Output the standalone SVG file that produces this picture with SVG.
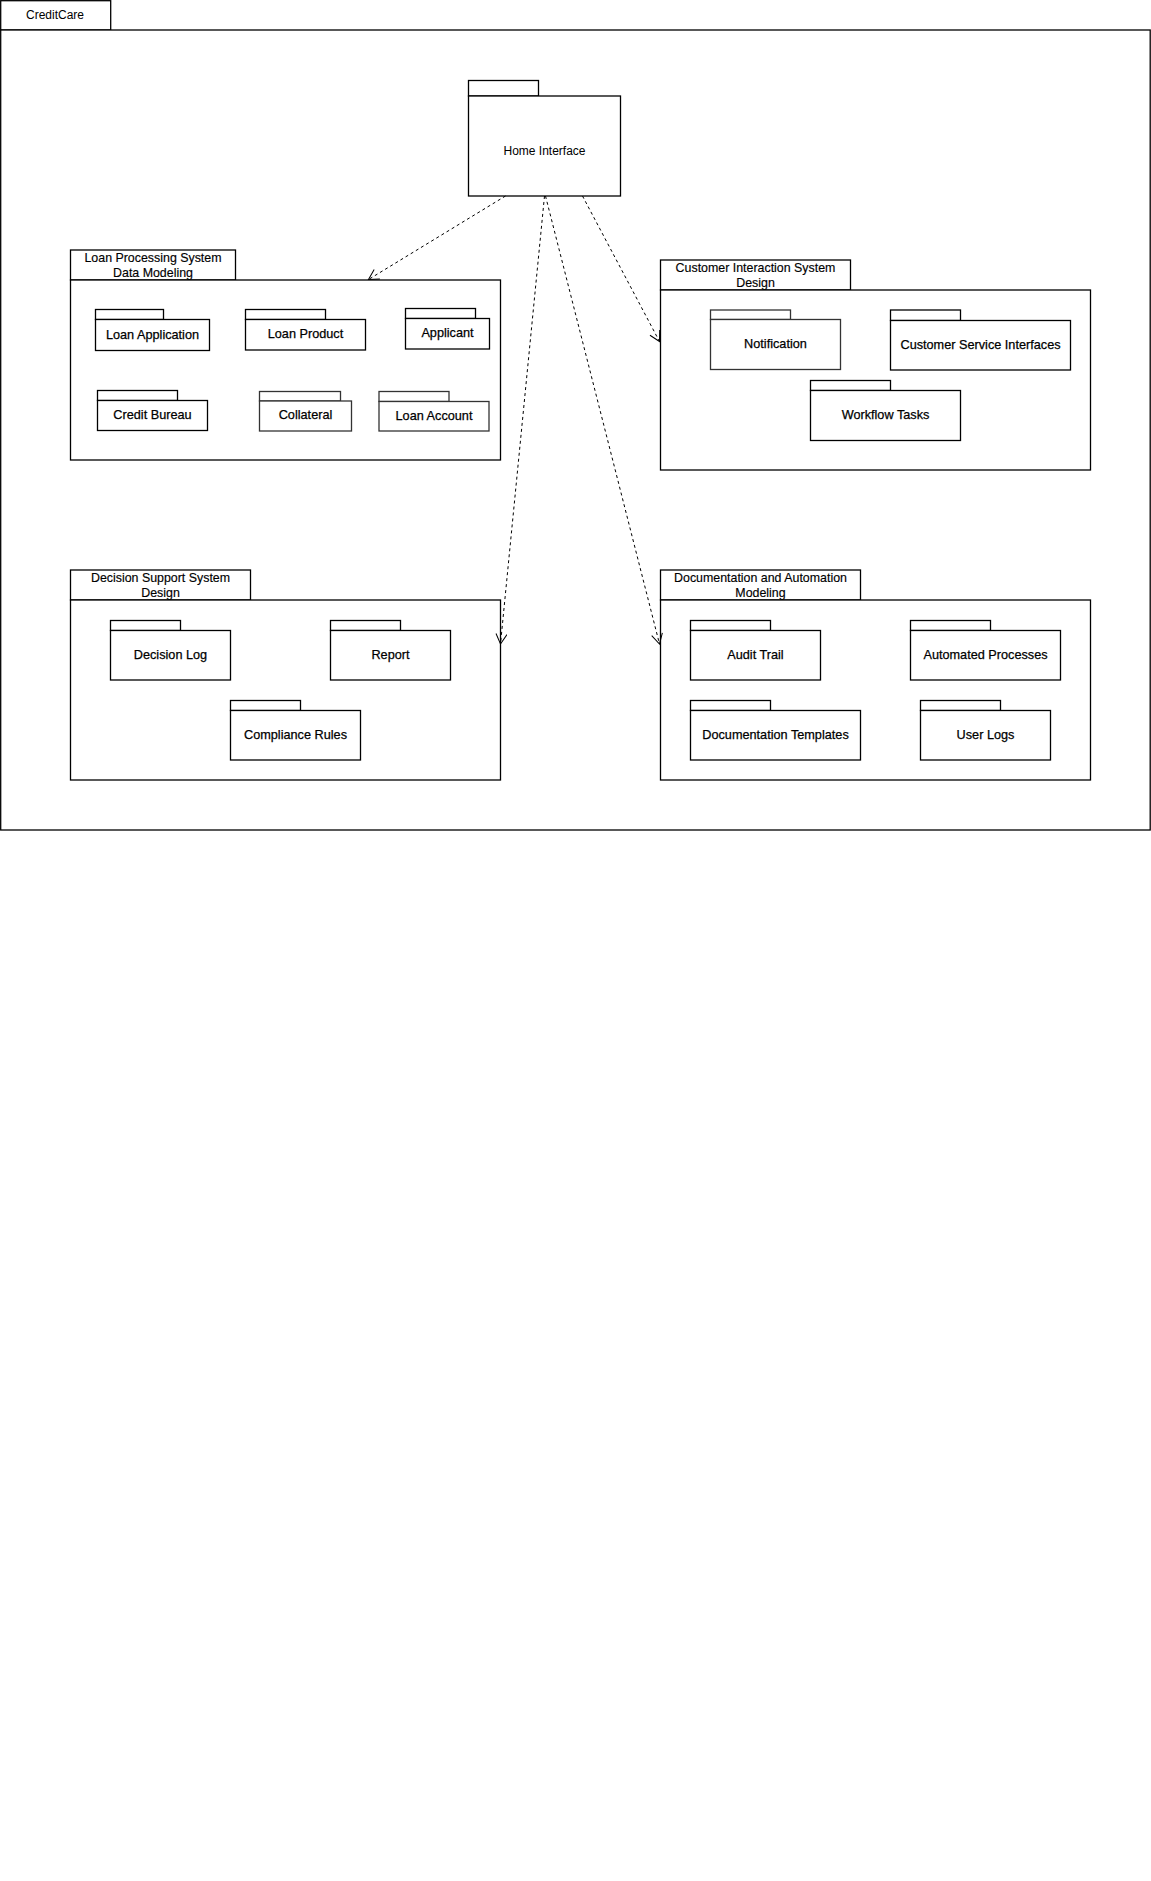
<svg xmlns="http://www.w3.org/2000/svg" width="1151" height="1881" viewBox="0 0 1151 1881">
<style>
  .box { fill: #ffffff; stroke: #000000; stroke-width: 1.3; }
  .gbox { fill: #ffffff; stroke: #333333; stroke-width: 1.3; }
  .t { font-family: "Liberation Sans", Arial, sans-serif; font-size: 12px; fill: #000000; text-anchor: middle; }
  .lbl { font-family: "Liberation Sans", Arial, sans-serif; font-size: 12.7px; fill: #000000; text-anchor: middle; stroke: #000000; stroke-width: 0.25; }
  .ttl { font-family: "Liberation Sans", Arial, sans-serif; font-size: 12.4px; fill: #000000; text-anchor: middle; stroke: #000000; stroke-width: 0.15; }
  .dep { fill: none; stroke: #000000; stroke-width: 1; stroke-dasharray: 3 3; }
</style>
<defs>
  <marker id="open" markerUnits="userSpaceOnUse" markerWidth="14" markerHeight="14" refX="11" refY="6" orient="auto">
    <path d="M1,0.5 L11,6 L1,11.5" fill="none" stroke="#000000" stroke-width="1"/>
  </marker>
</defs>
<rect width="1151" height="1881" fill="#ffffff"/>

<g id="creditcare">
  <rect class="box" x="0.7" y="0.7" width="110" height="29.3"/>
  <rect class="box" x="0.7" y="30" width="1149.5" height="800"/>
  <text class="t" x="55" y="19">CreditCare</text>
</g>

<g id="home-interface">
  <rect class="box" x="468.5" y="80.5" width="70" height="15.5"/>
  <rect class="box" x="468.5" y="96" width="152" height="100"/>
  <text class="t" x="544.5" y="155">Home Interface</text>
</g>

<g id="loan-processing">
  <rect class="box" x="70.5" y="250" width="165" height="30"/>
  <rect class="box" x="70.5" y="280" width="430" height="180"/>
  <text class="ttl" x="153" y="261.5">Loan Processing System</text>
  <text class="ttl" x="153" y="276.5">Data Modeling</text>
</g>
<g id="loan-application">
  <rect class="box" x="95.5" y="309.5" width="68" height="10"/>
  <rect class="box" x="95.5" y="319.5" width="114" height="31"/>
  <text class="lbl" x="152.5" y="338.5">Loan Application</text>
</g>
<g id="loan-product">
  <rect class="box" x="245.5" y="309.5" width="80" height="10"/>
  <rect class="box" x="245.5" y="319.5" width="120" height="30.5"/>
  <text class="lbl" x="305.5" y="338">Loan Product</text>
</g>
<g id="applicant">
  <rect class="box" x="405.5" y="308.5" width="70" height="10"/>
  <rect class="box" x="405.5" y="318.5" width="84" height="30.5"/>
  <text class="lbl" x="447.5" y="337">Applicant</text>
</g>
<g id="credit-bureau">
  <rect class="box" x="97.5" y="390.5" width="80" height="10"/>
  <rect class="box" x="97.5" y="400.5" width="110" height="30"/>
  <text class="lbl" x="152.5" y="419">Credit Bureau</text>
</g>
<g id="collateral">
  <rect class="gbox" x="259.5" y="391.5" width="81" height="9.5"/>
  <rect class="gbox" x="259.5" y="401" width="92" height="30"/>
  <text class="lbl" x="305.5" y="419">Collateral</text>
</g>
<g id="loan-account">
  <rect class="gbox" x="379" y="391.5" width="70" height="10"/>
  <rect class="gbox" x="379" y="401.5" width="110" height="29.5"/>
  <text class="lbl" x="434" y="420">Loan Account</text>
</g>

<g id="customer-interaction">
  <rect class="box" x="660.5" y="260" width="190" height="30"/>
  <rect class="box" x="660.5" y="290" width="430" height="180"/>
  <text class="ttl" x="755.5" y="271.5">Customer Interaction System</text>
  <text class="ttl" x="755.5" y="286.5">Design</text>
</g>
<g id="notification">
  <rect class="gbox" x="710.5" y="310" width="80" height="9.5"/>
  <rect class="gbox" x="710.5" y="319.5" width="130" height="50"/>
  <text class="lbl" x="775.5" y="348">Notification</text>
</g>
<g id="customer-service-interfaces">
  <rect class="box" x="890.5" y="310" width="70" height="10.5"/>
  <rect class="box" x="890.5" y="320.5" width="180" height="49.5"/>
  <text class="lbl" x="980.5" y="349">Customer Service Interfaces</text>
</g>
<g id="workflow-tasks">
  <rect class="box" x="810.5" y="380.5" width="80" height="10"/>
  <rect class="box" x="810.5" y="390.5" width="150" height="50"/>
  <text class="lbl" x="885.5" y="419">Workflow Tasks</text>
</g>

<g id="decision-support">
  <rect class="box" x="70.5" y="570" width="180" height="30"/>
  <rect class="box" x="70.5" y="600" width="430" height="180"/>
  <text class="ttl" x="160.5" y="581.5">Decision Support System</text>
  <text class="ttl" x="160.5" y="596.5">Design</text>
</g>
<g id="decision-log">
  <rect class="box" x="110.5" y="620.5" width="70" height="10"/>
  <rect class="box" x="110.5" y="630.5" width="120" height="49.5"/>
  <text class="lbl" x="170.5" y="659">Decision Log</text>
</g>
<g id="report">
  <rect class="box" x="330.5" y="620.5" width="70" height="10"/>
  <rect class="box" x="330.5" y="630.5" width="120" height="49.5"/>
  <text class="lbl" x="390.5" y="659">Report</text>
</g>
<g id="compliance-rules">
  <rect class="box" x="230.5" y="700.5" width="70" height="10"/>
  <rect class="box" x="230.5" y="710.5" width="130" height="49.5"/>
  <text class="lbl" x="295.5" y="739">Compliance Rules</text>
</g>

<g id="documentation-automation">
  <rect class="box" x="660.5" y="570" width="200" height="30"/>
  <rect class="box" x="660.5" y="600" width="430" height="180"/>
  <text class="ttl" x="760.5" y="581.5">Documentation and Automation</text>
  <text class="ttl" x="760.5" y="596.5">Modeling</text>
</g>
<g id="audit-trail">
  <rect class="box" x="690.5" y="620.5" width="80" height="10"/>
  <rect class="box" x="690.5" y="630.5" width="130" height="49.5"/>
  <text class="lbl" x="755.5" y="659">Audit Trail</text>
</g>
<g id="automated-processes">
  <rect class="box" x="910.5" y="620.5" width="80" height="10"/>
  <rect class="box" x="910.5" y="630.5" width="150" height="49.5"/>
  <text class="lbl" x="985.5" y="659">Automated Processes</text>
</g>
<g id="documentation-templates">
  <rect class="box" x="690.5" y="700.5" width="80" height="10"/>
  <rect class="box" x="690.5" y="710.5" width="170" height="49.5"/>
  <text class="lbl" x="775.5" y="739">Documentation Templates</text>
</g>
<g id="user-logs">
  <rect class="box" x="920.5" y="700.5" width="80" height="10"/>
  <rect class="box" x="920.5" y="710.5" width="130" height="49.5"/>
  <text class="lbl" x="985.5" y="739">User Logs</text>
</g>

<g id="connectors">
  <line class="dep" x1="505.5" y1="196" x2="368.5" y2="279.5" marker-end="url(#open)"/>
  <line class="dep" x1="582.5" y1="196" x2="659.5" y2="341.5" marker-end="url(#open)"/>
  <line class="dep" x1="544.5" y1="196" x2="500.5" y2="644" marker-end="url(#open)"/>
  <line class="dep" x1="545.5" y1="196" x2="659.5" y2="644" marker-end="url(#open)"/>
</g>
</svg>
